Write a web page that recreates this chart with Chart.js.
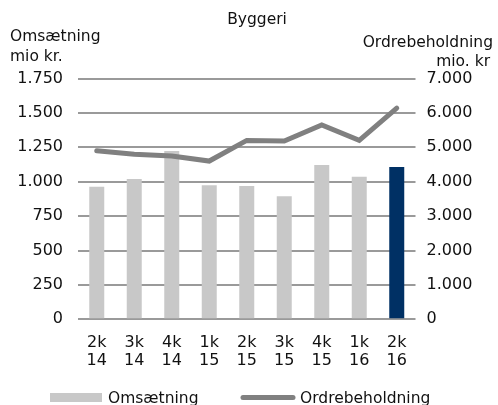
<!DOCTYPE html>
<html>
<head>
<meta charset="utf-8">
<script src="https://cdn.jsdelivr.net/npm/chart.js@4.4.1/dist/chart.umd.min.js"></script>
<style>
  body { margin: 0; background: #fff; }
  #wrap { width: 498px; height: 405px; position: relative; }
</style>
</head>
<body>
<div id="wrap"><canvas id="mycanvas"></canvas></div>
<script>
// data
var categories = [['2k', '14'], ['3k', '14'], ['4k', '14'], ['1k', '15'], ['2k', '15'],
                  ['3k', '15'], ['4k', '15'], ['1k', '16'], ['2k', '16']];
var omsaetning = [964, 1020, 1223, 974, 969, 894, 1121, 1036, 1107];
var ordrebeholdning = [4900, 4800, 4750, 4600, 5200, 5180, 5650, 5200, 6140];
var leftTicks = { min: 0, max: 1750, step: 250 };
var rightTicks = { min: 0, max: 7000, step: 1000 };

var FONT = 'DejaVu Sans';
var TEXT = '#111111';

function fmt(v) {
    return String(v).replace(/\B(?=(\d{3})+(?!\d))/g, '.');
}

var barColors = [];
for (var i = 0; i < omsaetning.length; i++) {
    barColors.push(i == omsaetning.length - 1 ? '#003064' : '#c8c8c8');
}

// titles + legend drawn by hand
var textPlugin = {
    id: 'texts',
    afterDraw: function (chart) {
        var c = chart.ctx;
        c.save();
        c.fillStyle = TEXT;
        c.textBaseline = 'middle';
        c.font = '15.5px ' + FONT;
        c.textAlign = 'center';
        c.fillText('Byggeri', 257, 20);
        c.textAlign = 'left';
        c.fillText('Omsætning', 10, 37);
        c.fillText('mio kr.', 10, 57);
        c.textAlign = 'right';
        c.fillText('Ordrebeholdning', 493, 43);
        c.fillText('mio. kr', 490, 62);

        // legend
        var ds = chart.data.datasets;
        c.textAlign = 'left';
        c.fillStyle = '#c8c8c8';
        c.fillRect(50, 393, 52, 9);
        c.fillStyle = TEXT;
        c.fillText(ds[0].label, 108, 399);
        c.strokeStyle = ds[1].borderColor;
        c.lineWidth = 5;
        c.lineCap = 'round';
        c.beginPath();
        c.moveTo(243, 397.5);
        c.lineTo(293, 397.5);
        c.stroke();
        c.fillText(ds[1].label, 300, 399);
        c.restore();
    }
};

var ctx = document.getElementById('mycanvas');
var myChart = new Chart(ctx, {
    type: 'bar',
    data: {
        labels: categories,
        datasets: [
            {
                type: 'bar',
                label: 'Omsætning',
                data: omsaetning,
                backgroundColor: barColors,
                yAxisID: 'y',
                categoryPercentage: 1,
                barPercentage: 0.4,
                order: 2
            },
            {
                type: 'line',
                label: 'Ordrebeholdning',
                data: ordrebeholdning,
                borderColor: '#808080',
                borderWidth: 5,
                borderCapStyle: 'round',
                pointRadius: 0,
                tension: 0,
                yAxisID: 'y1',
                order: 1
            }
        ]
    },
    options: {
        responsive: true,
        maintainAspectRatio: false,
        animation: false,
        layout: { padding: { top: 78.5, left: 0, right: 0, bottom: 0 } },
        plugins: {
            legend: { display: false },
            title: { display: false },
            tooltip: { enabled: false }
        },
        scales: {
            x: {
                grid: { display: false },
                border: { display: false },
                ticks: {
                    color: TEXT,
                    font: { family: FONT, size: 16, lineHeight: 1.15 },
                    padding: 6,
                    maxRotation: 0,
                    autoSkip: false
                },
                afterFit: function (s) { s.height = 85.7; }
            },
            y: {
                position: 'left',
                min: leftTicks.min,
                max: leftTicks.max,
                grid: { color: '#9a9a9a', lineWidth: 2, drawTicks: false },
                border: { display: false },
                ticks: {
                    stepSize: leftTicks.step,
                    color: TEXT,
                    font: { family: FONT, size: 16 },
                    padding: 15,
                    callback: function (v) { return fmt(v); }
                },
                afterFit: function (s) { s.width = 78; }
            },
            y1: {
                position: 'right',
                min: rightTicks.min,
                max: rightTicks.max,
                grid: { display: false, drawTicks: false },
                border: { display: false },
                ticks: {
                    stepSize: rightTicks.step,
                    color: TEXT,
                    font: { family: FONT, size: 16 },
                    padding: 11,
                    callback: function (v) { return fmt(v); }
                },
                afterFit: function (s) { s.width = 82.5; }
            }
        }
    },
    plugins: [textPlugin]
});
</script>
</body>
</html>
